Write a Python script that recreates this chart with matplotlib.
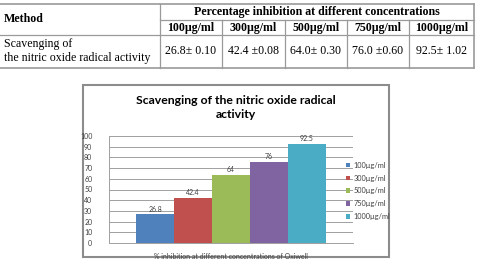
import matplotlib.pyplot as plt
from matplotlib.patches import Rectangle

# data
concentrations = ['100µg/ml', '300µg/ml', '500µg/ml', '750µg/ml', '1000µg/ml']
inhibition = [26.8, 42.4, 64.0, 76.0, 92.5]
table_values = ['26.8± 0.10', '42.4 ±0.08', '64.0± 0.30', '76.0 ±0.60', '92.5± 1.02']
bar_labels = ['26.8', '42.4', '64', '76', '92.5']
colors = ['#4F81BD', '#C0504D', '#9BBB59', '#8064A2', '#4BACC6']

W, H = 478, 266
fig = plt.figure(figsize=(W / 100, H / 100), dpi=100)


def px(x, y):
    return x / W, 1 - y / H


def fig_rect(x0, y0, x1, y1):
    return [x0 / W, 1 - y1 / H, (x1 - x0) / W, (y1 - y0) / H]


# ---- table at the top ----
tab = fig.add_axes([0, 0, 1, 1])
tab.set_xlim(0, W)
tab.set_ylim(H, 0)
tab.axis('off')

line_c = '#9a9a9a'
col_x = [160, 222, 285, 347, 409, 474]
tab.plot([0, 474], [4, 4], color=line_c, lw=1.2)
tab.plot([0, 474], [68, 68], color=line_c, lw=1.2)
tab.plot([160, 474], [20, 20], color=line_c, lw=0.9)
tab.plot([0, 474], [35, 35], color=line_c, lw=0.9)
tab.plot([160, 160], [4, 68], color=line_c, lw=0.9)
tab.plot([474, 474], [4, 68], color=line_c, lw=1.2)
for x in col_x[1:-1]:
    tab.plot([x, x], [20, 68], color=line_c, lw=0.9)

serif = 'Liberation Serif'
fs = 8.6
tab.text(4, 19.5, 'Method', fontsize=fs, fontweight='bold', family=serif,
         ha='left', va='center')
tab.text(317, 12, 'Percentage inhibition at different concentrations',
         fontsize=fs, fontweight='bold', family=serif, ha='center', va='center')
tab.text(4, 44, 'Scavenging of', fontsize=fs, family=serif, ha='left', va='center')
tab.text(4, 58, 'the nitric oxide radical activity', fontsize=fs, family=serif,
         ha='left', va='center')
for i in range(5):
    cx = (col_x[i] + col_x[i + 1]) / 2
    tab.text(cx, 27.5, concentrations[i], fontsize=fs, fontweight='bold',
             family=serif, ha='center', va='center')
    tab.text(cx, 51.5, table_values[i], fontsize=fs, family=serif,
             ha='center', va='center')

# chart frame
tab.add_patch(Rectangle((83, 85), 306, 172, facecolor='white',
                        edgecolor='#8c8c8c', lw=1.5, zorder=1))
tab.text(236, 100, 'Scavenging of the nitric oxide radical', fontsize=8.8,
         fontweight='bold', family='Lato', ha='center', va='center', zorder=3)
tab.text(236, 115, 'activity', fontsize=8.8, fontweight='bold', family='Lato',
         ha='center', va='center', zorder=3)
xl = tab.text(231, 253, '% inhibition at different concentrations of Oxiwell',
              fontsize=5, color='#404040', family='Lato', ha='center', va='top',
              zorder=3)
xl.set_clip_path(Rectangle((84, 86), 304, 170, transform=tab.transData))

# ---- bar chart ----
ax = fig.add_axes(fig_rect(109, 136, 353, 243))
ax.set_zorder(2)
ax.patch.set_alpha(0)
w = 0.155
offsets = [-2, -1, 0, 1, 2]
for i in range(5):
    ax.bar(offsets[i] * w, inhibition[i], width=w, color=colors[i],
           label=concentrations[i], zorder=2)
    ax.text(offsets[i] * w, inhibition[i] + 1.5, bar_labels[i], fontsize=5,
            color='#404040', ha='center', va='bottom', family='Lato')
ax.set_xlim(-0.5, 0.5)
ax.set_ylim(0, 100)
ax.set_yticks(range(0, 101, 10))
ax.set_xticks([])
ax.tick_params(axis='y', length=0, labelsize=5, labelcolor='#404040', pad=12)
for lab in ax.get_yticklabels():
    lab.set_family('Lato')
ax.grid(axis='y', color='#a0a0a0', lw=0.7, zorder=0)
for s in ['top', 'right']:
    ax.spines[s].set_visible(False)
ax.spines['left'].set_color('#a0a0a0')
ax.spines['bottom'].set_color('#a0a0a0')
ax.spines['left'].set_linewidth(0.7)
ax.spines['bottom'].set_linewidth(0.7)

leg = ax.legend(loc='upper left', bbox_to_anchor=px(339, 155),
                bbox_transform=fig.transFigure, frameon=False,
                prop={'family': 'Lato', 'size': 5.3}, handlelength=0.6,
                handleheight=0.6, handletextpad=0.5, labelspacing=0.8,
                labelcolor='#404040')

fig.savefig('out.png', dpi=100)
